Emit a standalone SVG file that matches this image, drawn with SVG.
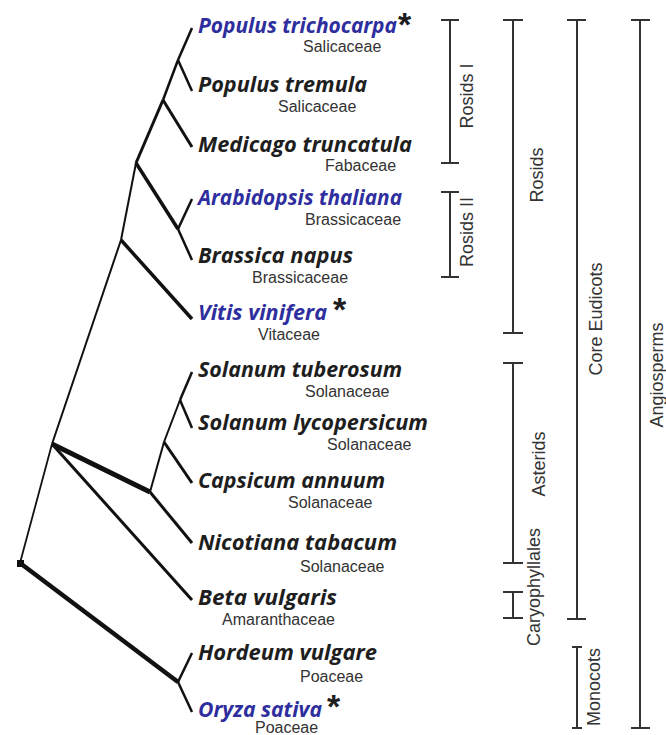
<svg xmlns="http://www.w3.org/2000/svg" width="666" height="735" viewBox="0 0 666 735">
<style>
.sp{font-family:"Open Sans","DejaVu Sans",sans-serif;font-weight:700;font-style:italic;font-size:21px;fill:#1e1e1e}
.bl{fill:#2e2e9e}
.fam{font-family:"Liberation Sans",Arial,sans-serif;font-size:16px;fill:#333}
.ast{font-family:"Liberation Sans",Arial,sans-serif;font-weight:700;font-size:34px;fill:#1e1e1e}
.lab{font-family:"Liberation Sans",Arial,sans-serif;font-size:18px;fill:#333;text-anchor:middle}
.br{stroke:#333;stroke-width:2;fill:none}
.t{stroke:#111;fill:none;stroke-linecap:butt;stroke-linejoin:miter}
</style>
<rect width="666" height="735" fill="#fff"/>
<g id="tree-connectors">
<line class="t" x1="20" y1="563" x2="52" y2="444" stroke-width="1.8"/>
<line class="t" x1="20" y1="563" x2="178" y2="682" stroke-width="4.5"/>
<line class="t" x1="178" y1="682" x2="192" y2="653" stroke-width="2.5"/>
<line class="t" x1="178" y1="682" x2="192" y2="712" stroke-width="2.5"/>
<line class="t" x1="52" y1="444" x2="121" y2="240" stroke-width="2"/>
<line class="t" x1="52" y1="444" x2="150" y2="492" stroke-width="5"/>
<line class="t" x1="52" y1="444" x2="192" y2="600" stroke-width="3"/>
<line class="t" x1="150" y1="492" x2="192" y2="543" stroke-width="3"/>
<line class="t" x1="150" y1="492" x2="164" y2="442" stroke-width="2"/>
<line class="t" x1="164" y1="442" x2="180" y2="400" stroke-width="2"/>
<line class="t" x1="164" y1="442" x2="192" y2="483" stroke-width="3"/>
<line class="t" x1="180" y1="400" x2="192" y2="372" stroke-width="2.5"/>
<line class="t" x1="180" y1="400" x2="192" y2="428" stroke-width="2.5"/>
<line class="t" x1="121" y1="240" x2="192" y2="319" stroke-width="3.5"/>
<line class="t" x1="121" y1="240" x2="136" y2="163" stroke-width="2"/>
<line class="t" x1="136" y1="163" x2="178" y2="229" stroke-width="3.5"/>
<line class="t" x1="178" y1="229" x2="192" y2="199" stroke-width="2.5"/>
<line class="t" x1="178" y1="229" x2="192" y2="260" stroke-width="2.5"/>
<line class="t" x1="136" y1="163" x2="163" y2="100" stroke-width="3"/>
<line class="t" x1="163" y1="100" x2="192" y2="147" stroke-width="3"/>
<line class="t" x1="163" y1="100" x2="178" y2="60" stroke-width="2.5"/>
<line class="t" x1="178" y1="60" x2="192" y2="28" stroke-width="2.5"/>
<line class="t" x1="178" y1="60" x2="192" y2="91" stroke-width="2.5"/>
<rect x="17" y="560" width="7" height="7" fill="#111"/>
</g>
<g id="n-ptri"><text class="sp bl" x="198" y="33" textLength="199" lengthAdjust="spacingAndGlyphs">Populus trichocarpa</text><text class="ast" x="398" y="36">*</text><text class="fam" x="303" y="52">Salicaceae</text></g>
<g id="n-ptrem"><text class="sp" x="198" y="92" textLength="169" lengthAdjust="spacingAndGlyphs">Populus tremula</text><text class="fam" x="278" y="112">Salicaceae</text></g>
<g id="n-med"><text class="sp" x="198" y="152" textLength="214" lengthAdjust="spacingAndGlyphs">Medicago truncatula</text><text class="fam" x="325" y="171">Fabaceae</text></g>
<g id="n-arab"><text class="sp bl" x="198" y="205" textLength="204" lengthAdjust="spacingAndGlyphs">Arabidopsis thaliana</text><text class="fam" x="305" y="225">Brassicaceae</text></g>
<g id="n-bnap"><text class="sp" x="198" y="263" textLength="155" lengthAdjust="spacingAndGlyphs">Brassica napus</text><text class="fam" x="252" y="283">Brassicaceae</text></g>
<g id="n-vitis"><text class="sp bl" x="198" y="320" textLength="129" lengthAdjust="spacingAndGlyphs">Vitis vinifera</text><text class="ast" x="333" y="321">*</text><text class="fam" x="258" y="340">Vitaceae</text></g>
<g id="n-stub"><text class="sp" x="198" y="377" textLength="204" lengthAdjust="spacingAndGlyphs">Solanum tuberosum</text><text class="fam" x="305" y="397">Solanaceae</text></g>
<g id="n-slyc"><text class="sp" x="198" y="430" textLength="230" lengthAdjust="spacingAndGlyphs">Solanum lycopersicum</text><text class="fam" x="327" y="450">Solanaceae</text></g>
<g id="n-caps"><text class="sp" x="198" y="488" textLength="187" lengthAdjust="spacingAndGlyphs">Capsicum annuum</text><text class="fam" x="288" y="508">Solanaceae</text></g>
<g id="n-nico"><text class="sp" x="198" y="550" textLength="199" lengthAdjust="spacingAndGlyphs">Nicotiana tabacum</text><text class="fam" x="300" y="572">Solanaceae</text></g>
<g id="n-beta"><text class="sp" x="198" y="605" textLength="139" lengthAdjust="spacingAndGlyphs">Beta vulgaris</text><text class="fam" x="222" y="625">Amaranthaceae</text></g>
<g id="n-hord"><text class="sp" x="198" y="660" textLength="179" lengthAdjust="spacingAndGlyphs">Hordeum vulgare</text><text class="fam" x="300" y="682">Poaceae</text></g>
<g id="n-oryza"><text class="sp bl" x="198" y="717" textLength="124" lengthAdjust="spacingAndGlyphs">Oryza sativa</text><text class="ast" x="327" y="718">*</text><text class="fam" x="255" y="733">Poaceae</text></g>
<g id="brackets">
<path class="br" d="M441 20H459M450 20V163M441 163H459"/>
<path class="br" d="M441 192H459M450 192V277M441 277H459"/>
<path class="br" d="M503 20H523M513 20V333M503 333H523"/>
<path class="br" d="M503 363H523M513 363V563M503 563H523"/>
<path class="br" d="M503 592H523M513 592V618M503 618H523"/>
<path class="br" d="M567 20H586M577 20V619M567 619H586"/>
<path class="br" d="M572 647H582M577 647V728M572 728H582"/>
<path class="br" d="M631 20H650M640 20V728M631 728H650"/>
<text class="lab" transform="translate(473,96) rotate(-90)">Rosids I</text>
<text class="lab" transform="translate(473,232) rotate(-90)">Rosids II</text>
<text class="lab" transform="translate(543,175) rotate(-90)">Rosids</text>
<text class="lab" transform="translate(545,464) rotate(-90)">Asterids</text>
<text class="lab" transform="translate(540,587) rotate(-90)">Caryophyllales</text>
<text class="lab" transform="translate(602,319) rotate(-90)">Core Eudicots</text>
<text class="lab" transform="translate(600,687) rotate(-90)">Monocots</text>
<text class="lab" transform="translate(663,375) rotate(-90)">Angiosperms</text>
</g>
</svg>
